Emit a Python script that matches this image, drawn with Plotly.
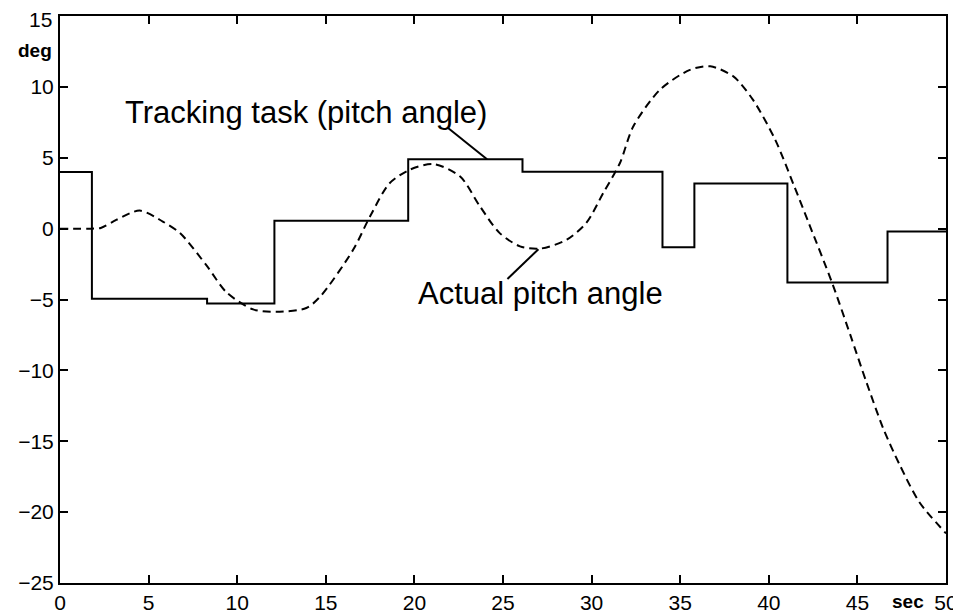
import plotly.graph_objects as go

# tracking task (step command), value holds from each time until the next
step_t = [0, 1.8, 8.3, 12.1, 19.65, 26.1, 34.0, 35.8, 41.05, 46.7, 50]
step_deg = [4.0, -4.94, -5.29, 0.56, 4.9, 4.02, -1.32, 3.19, -3.8, -0.2, -0.2]

# actual pitch angle response
resp_t = [0, 1.8, 2.3, 3.2, 4.5, 5.8, 6.8, 8.3, 9.4, 10.9, 12.2, 13.9, 14.7,
          16.55, 17.5, 18.6, 19.75, 21.07, 22.57, 23.7, 24.8, 25.96, 27.1,
          28.6, 29.7, 30.66, 31.6, 32.35, 33.86, 35.55, 36.7, 38.0, 39.1,
          40.35, 41.4, 42.3, 43.55, 44.6, 45.5, 46.46, 47.4, 48.5, 50]
resp_deg = [0, 0, 0.05, 0.63, 1.27, 0.5, -0.35, -2.65, -4.5, -5.7, -5.87, -5.6, -4.77,
            -1.48, 0.87, 3.2, 4.16, 4.56, 3.69, 1.57, -0.3, -1.25, -1.41,
            -0.78, 0.4, 2.52, 4.63, 7.2, 9.8, 11.2, 11.45, 10.74, 9.1,
            6.3, 3.1, 0.25, -3.75, -7.5, -10.8, -14.1, -16.7, -19.3, -21.5]

x_ticks = [0, 5, 10, 15, 20, 25, 30, 35, 40, 45, 50]
y_ticks = [15, 10, 5, 0, -5, -10, -15, -20, -25]
y_ticktext = ["", "10", "5", "0", "\u22125", "\u221210", "\u221215", "\u221220", "\u221225"]

# label text and leader lines (x0, y0, x1, y1)
labels = ["Tracking task (pitch angle)", "Actual pitch angle"]
label_pos = [(3.55, 8.2), (20.1, -4.6)]
leaders = [(21.9, 7.1, 24.1, 4.9), (25.25, -3.55, 27.0, -1.45)]

font = "Liberation Sans, Arial, Helvetica, sans-serif"

fig = go.Figure()
fig.add_trace(go.Scatter(x=step_t, y=step_deg, mode="lines", line_shape="hv",
                         line=dict(color="black", width=2)))
fig.add_trace(go.Scatter(x=resp_t, y=resp_deg, mode="lines", line_shape="spline",
                         line=dict(color="black", width=2, dash="8px,5px", smoothing=0.8)))

for (x0, y0, x1, y1) in leaders:
    fig.add_shape(type="line", x0=x0, y0=y0, x1=x1, y1=y1, xref="x", yref="y",
                  line=dict(color="black", width=2))

for txt, (lx, ly) in zip(labels, label_pos):
    fig.add_annotation(x=lx, y=ly, text=txt, showarrow=False, xanchor="left",
                       yanchor="middle", font=dict(size=31, color="black", family=font))

# top tick label sits a little below the frame corner, as in the original
fig.add_annotation(x=0, xref="paper", y=y_ticks[0], yref="y", text=str(y_ticks[0]),
                   showarrow=False, xanchor="right", xshift=-6, yshift=-3,
                   font=dict(size=21, color="black", family=font))
fig.add_annotation(x=0, xref="paper", y=12.55, yref="y", text="<b>deg</b>",
                   showarrow=False, xanchor="right", xshift=-6,
                   font=dict(size=19, color="black", family=font))
fig.add_annotation(x=47.85, xref="x", y=0, yref="paper", text="<b>sec</b>",
                   showarrow=False, yanchor="top", yshift=-6,
                   font=dict(size=19, color="black", family=font))

axis_style = dict(showline=True, linecolor="black", linewidth=2, mirror="ticks",
                  ticks="inside", ticklen=8, tickwidth=1.5, tickcolor="black",
                  showgrid=False, zeroline=False, automargin=False,
                  ticklabeloverflow="allow",
                  tickfont=dict(size=21, color="black", family=font))

fig.update_xaxes(range=[0, 50], tickvals=x_ticks, **axis_style)
fig.update_yaxes(range=[-25, 15], tickvals=y_ticks, ticktext=y_ticktext, **axis_style)

# page body has an 8px margin, so the figure is sized to fit inside the window
fig.update_layout(width=953, height=607, showlegend=False,
                  margin=dict(l=52, r=15, t=8, b=32),
                  paper_bgcolor="white", plot_bgcolor="white")

fig.write_html("out.html")
